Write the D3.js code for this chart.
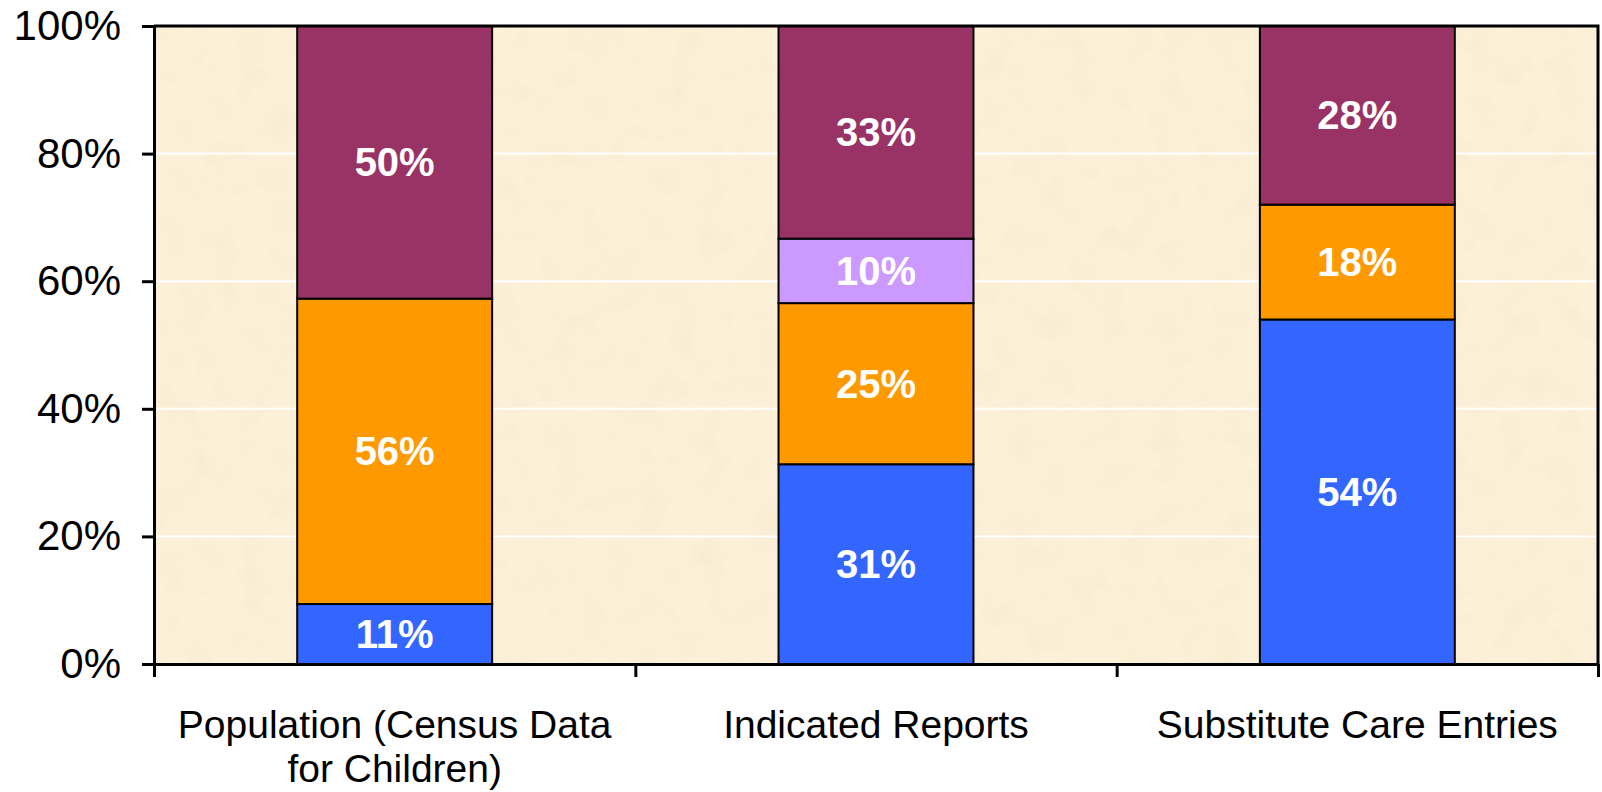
<!DOCTYPE html>
<html>
<head>
<meta charset="utf-8">
<script src="https://cdn.jsdelivr.net/npm/d3@7"></script>
<style>
  body { margin: 0; background: #fff; }
  svg { display: block; font-family: "Liberation Sans", Arial, sans-serif; }
</style>
</head>
<body>
<div class="chart"></div>
<script>
var categories = ['Population (Census Data for Children)', 'Indicated Reports', 'Substitute Care Entries'];
var categoryLines = [['Population (Census Data', 'for Children)'], ['Indicated Reports'], ['Substitute Care Entries']];

// values shown on the segments (each bar is scaled to 100%)
var blueValues = [11, 31, 54];
var orangeValues = [56, 25, 18];
var lavenderValues = [0, 10, 0];
var purpleValues = [50, 33, 28];

var yTicks = [0, 0.2, 0.4, 0.6, 0.8, 1];

var seriesKeys = ['blue', 'orange', 'lavender', 'purple'];
var colors = { blue: '#3366FF', orange: '#FF9900', lavender: '#CC99FF', purple: '#993366' };

var data = categories.map((c, i) => ({
  name: c,
  blue: blueValues[i],
  orange: orangeValues[i],
  lavender: lavenderValues[i],
  purple: purpleValues[i]
}));

const margin = { top: 26, right: 4, bottom: 128, left: 154 };
const width = 1602 - margin.left - margin.right;
const height = 792 - margin.top - margin.bottom;

var root = d3.select('.chart')
  .append('svg')
    .attr('width', 1602)
    .attr('height', 792);

// parchment texture
var defs = root.append('defs');
var filt = defs.append('filter').attr('id', 'paper')
  .attr('x', 0).attr('y', 0).attr('width', '100%').attr('height', '100%');
filt.append('feTurbulence')
  .attr('type', 'fractalNoise')
  .attr('baseFrequency', '0.035')
  .attr('numOctaves', 3)
  .attr('seed', 4);
filt.append('feColorMatrix')
  .attr('type', 'matrix')
  .attr('values', '0 0 0 0 0.90  0 0 0 0 0.80  0 0 0 0 0.60  0.9 0 0 0 -0.38');

var svg = root.append('g')
  .attr('transform', `translate(${margin.left}, ${margin.top})`);

svg.append('rect')
  .attr('width', width)
  .attr('height', height)
  .attr('fill', '#FCF0D9');
svg.append('rect')
  .attr('width', width)
  .attr('height', height)
  .attr('filter', 'url(#paper)');

var xScale = d3.scaleBand()
  .domain(categories)
  .range([0, width])
  .paddingInner(0.595)
  .paddingOuter(0.2975);

var xEdge = d3.scaleLinear()
  .domain([0, categories.length])
  .range([0, width]);

var yScale = d3.scaleLinear()
  .domain([0, 1])
  .range([height, 0]);

// white gridlines
svg.append('g')
  .selectAll('line')
  .data(yTicks.filter(d => d > 0 && d < 1))
  .join('line')
    .attr('x1', 0)
    .attr('x2', width)
    .attr('y1', d => yScale(d))
    .attr('y2', d => yScale(d))
    .attr('stroke', '#fff')
    .attr('stroke-width', 2);

var stack = d3.stack()
  .keys(seriesKeys)
  .offset(d3.stackOffsetExpand);
var stacked = stack(data);

var layers = svg.append('g')
  .selectAll('g')
  .data(stacked)
  .join('g')
    .attr('fill', d => colors[d.key]);

layers.selectAll('rect')
  .data(d => d.filter(s => s[1] - s[0] > 0))
  .join('rect')
    .attr('x', d => xScale(d.data.name))
    .attr('width', xScale.bandwidth())
    .attr('y', d => yScale(d[1]))
    .attr('height', d => yScale(d[0]) - yScale(d[1]))
    .attr('stroke', '#000')
    .attr('stroke-width', 2);

// value labels
svg.append('g')
  .selectAll('g')
  .data(stacked)
  .join('g')
  .selectAll('text')
  .data(d => d.filter(s => s[1] - s[0] > 0).map(s => ({ s: s, key: d.key })))
  .join('text')
    .attr('x', d => xScale(d.s.data.name) + xScale.bandwidth() / 2)
    .attr('y', d => yScale((d.s[0] + d.s[1]) / 2))
    .attr('dy', '0.35em')
    .attr('text-anchor', 'middle')
    .attr('fill', '#fff')
    .attr('font-weight', 'bold')
    .attr('font-size', 40)
    .text(d => d.s.data[d.key] + '%');

// frame: top and right border
svg.append('path')
  .attr('d', `M0,0H${width}V${height}`)
  .attr('fill', 'none')
  .attr('stroke', '#000')
  .attr('stroke-width', 3);

// y axis
var yAxis = svg.append('g')
  .call(d3.axisLeft(yScale)
    .tickValues(yTicks)
    .tickFormat(d3.format('.0%'))
    .tickSize(12)
    .tickPadding(21));
yAxis.select('.domain').attr('stroke-width', 3);
yAxis.selectAll('.tick line').attr('stroke-width', 3);
yAxis.selectAll('text')
  .attr('font-size', 42)
  .attr('font-family', '"Liberation Sans", Arial, sans-serif')
  .attr('fill', '#000');

// x axis: line with ticks at category boundaries
var xAxis = svg.append('g')
  .attr('transform', `translate(0, ${height})`)
  .call(d3.axisBottom(xEdge)
    .tickValues(d3.range(categories.length + 1))
    .tickFormat('')
    .tickSize(13)
    .tickSizeOuter(0));
xAxis.select('.domain').attr('stroke-width', 3);
xAxis.selectAll('.tick line').attr('stroke-width', 3);

var catLabels = svg.append('g')
  .attr('transform', `translate(0, ${height})`)
  .selectAll('text')
  .data(categories)
  .join('text')
    .attr('x', d => xScale(d) + xScale.bandwidth() / 2)
    .attr('y', 74)
    .attr('text-anchor', 'middle')
    .attr('font-size', 39)
    .attr('fill', '#000');

catLabels.selectAll('tspan')
  .data((d, i) => categoryLines[i])
  .join('tspan')
    .attr('x', function () { return d3.select(this.parentNode).attr('x'); })
    .attr('dy', (d, i) => i ? 44 : 0)
    .text(d => d);
</script>
</body>
</html>
